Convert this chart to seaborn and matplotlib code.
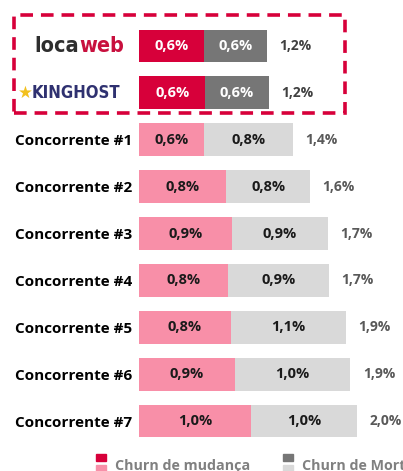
import matplotlib
matplotlib.use("Agg")
import matplotlib.pyplot as plt
import matplotlib.patches as mpatches
import seaborn as sns
import pandas as pd

# data (churn, % per month)
rows = ["locaweb", "kinghost", "Concorrente #1", "Concorrente #2", "Concorrente #3",
        "Concorrente #4", "Concorrente #5", "Concorrente #6", "Concorrente #7"]
churn_mudanca = [0.60, 0.61, 0.60, 0.80, 0.85, 0.82, 0.84, 0.88, 1.03]
churn_morte = [0.57, 0.58, 0.81, 0.77, 0.88, 0.92, 1.06, 1.06, 0.97]
lbl_mudanca = ["0,6%", "0,6%", "0,6%", "0,8%", "0,9%", "0,8%", "0,8%", "0,9%", "1,0%"]
lbl_morte = ["0,6%", "0,6%", "0,8%", "0,8%", "0,9%", "0,9%", "1,1%", "1,0%", "1,0%"]
lbl_total = ["1,2%", "1,2%", "1,4%", "1,6%", "1,7%", "1,7%", "1,9%", "1,9%", "2,0%"]
legend_names = ["Churn de mudança", "Churn de Morte"]

RED, DGREY = "#D7003A", "#767676"
PINK, LGREY = "#F88FA8", "#D9D9D9"

sns.set_theme(style="white")
plt.rcParams["font.family"] = ["Open Sans", "DejaVu Sans"]

df = pd.DataFrame({"row": rows, "mud": churn_mudanca, "mor": churn_morte})
df["total"] = df["mud"] + df["mor"]

W, H = 403, 471
fig = plt.figure(figsize=(W / 100, H / 100), dpi=100)
ax = fig.add_axes([139 / W, 1 - 444.5 / H, (W - 139) / W, (444.5 - 22.5) / H])

top = lambda i: i < 2
pal_total = {r: (DGREY if top(i) else LGREY) for i, r in enumerate(rows)}
pal_mud = {r: (RED if top(i) else PINK) for i, r in enumerate(rows)}

sns.barplot(data=df, x="total", y="row", hue="row", palette=pal_total, width=0.70,
            legend=False, ax=ax, saturation=1, linewidth=0)
sns.barplot(data=df, x="mud", y="row", hue="row", palette=pal_mud, width=0.70,
            legend=False, ax=ax, saturation=1, linewidth=0)

ax.set_xlim(0, (W - 139) / 109)
ax.set_ylim(8.5, -0.5)
ax.set_xlabel("")
ax.set_ylabel("")
ax.set_xticks([])
ax.set_yticks(range(len(rows)))
ax.set_yticklabels(["", ""] + rows[2:], fontsize=11, fontweight="bold", color="black")
ax.tick_params(axis="y", length=0, pad=5)
sns.despine(ax=ax, left=True, bottom=True, top=True, right=True)

for i in range(len(rows)):
    m, d = churn_mudanca[i], churn_morte[i]
    c_in = "white" if top(i) else "#1A1A1A"
    ax.text(m / 2, i, lbl_mudanca[i], ha="center", va="center", fontsize=10.5,
            fontweight="bold", color=c_in)
    ax.text(m + d / 2, i, lbl_morte[i], ha="center", va="center", fontsize=10.5,
            fontweight="bold", color=c_in)
    ax.annotate(lbl_total[i], (m + d, i), xytext=(9, 0), textcoords="offset points",
                ha="left", va="center", fontsize=10, fontweight="bold",
                color="#404040" if top(i) else "#595959")

# logos (as text)
ymid0 = 1 - 46 / H
fig.text(79 / W, ymid0, "loca", ha="right", va="center", fontsize=15.5,
         fontweight="bold", color="#2E2E2E", family="DejaVu Sans", fontstretch="condensed")
fig.text(79 / W, ymid0, "web", ha="left", va="center", fontsize=15.5,
         fontweight="bold", color="#C8103E", family="DejaVu Sans", fontstretch="condensed")
ymid1 = 1 - 93 / H
fig.text(25 / W, ymid1, "★", ha="center", va="center", fontsize=12,
         color="#F2C01E", family="DejaVu Sans")
fig.text(32 / W, ymid1, "KINGHOST", ha="left", va="center", fontsize=12,
         fontweight="bold", color="#2F3170", family="DejaVu Sans", fontstretch="condensed")

# dashed highlight box
fig.patches.append(mpatches.Rectangle((14 / W, 1 - 113 / H), 331 / W, 98 / H,
                                      transform=fig.transFigure, fill=False,
                                      edgecolor=RED, linewidth=2.6,
                                      linestyle=(0, (3.5, 2.2)), clip_on=False))

# legend
for x0, c_top, c_bot, name in [(96, RED, PINK, legend_names[0]),
                               (283, DGREY, LGREY, legend_names[1])]:
    fig.patches.append(mpatches.Rectangle((x0 / W, 1 - 461 / H), 10 / W, 7 / H,
                                          transform=fig.transFigure, color=c_top))
    fig.patches.append(mpatches.Rectangle((x0 / W, 1 - 473 / H), 10 / W, 8 / H,
                                          transform=fig.transFigure, color=c_bot))
    fig.text((x0 + 19) / W, 1 - 466 / H, name, ha="left", va="center",
             fontsize=10.3, fontweight="bold", color="#808080")

fig.savefig("out.png", dpi=100)
